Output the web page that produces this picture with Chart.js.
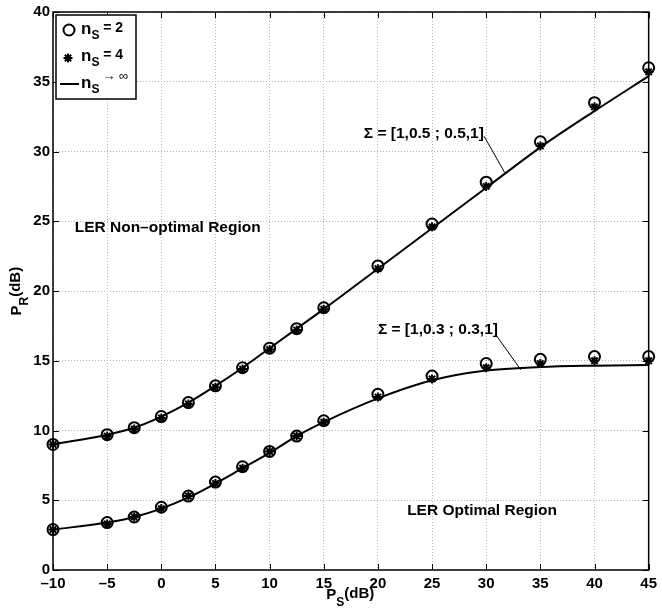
<!DOCTYPE html>
<html>
<head>
<meta charset="utf-8">
<script src="https://cdn.jsdelivr.net/npm/chart.js@4.4.1/dist/chart.umd.min.js"></script>
<style>
  html, body { margin: 0; padding: 0; background: #fff; }
  #wrap { width: 662px; height: 610px; }
</style>
</head>
<body>
<div id="wrap"><canvas id="prChart" width="662" height="610"></canvas></div>
<script>
// P_S in dB (x) and P_R in dB (y)
const psDb      = [-10, -5, -2.5, 0, 2.5, 5, 7.5, 10, 12.5, 15, 20, 25, 30, 35, 40, 45];

// Sigma = [1,0.5 ; 0.5,1]
const upperNs2  = [9.0, 9.7, 10.2, 11.0, 12.0, 13.2, 14.5, 15.9, 17.3, 18.8, 21.8, 24.8, 27.8, 30.7, 33.5, 36.0];
const upperNs4  = [9.0, 9.6, 10.1, 10.9, 11.9, 13.1, 14.4, 15.8, 17.2, 18.7, 21.6, 24.6, 27.5, 30.4, 33.2, 35.7];
const upperInf  = [9.0, 9.7, 10.2, 11.0, 12.0, 13.2, 14.5, 15.9, 17.3, 18.7, 21.6, 24.5, 27.4, 30.3, 32.9, 35.4];

// Sigma = [1,0.3 ; 0.3,1]
const lowerNs2  = [2.9, 3.4, 3.8, 4.5, 5.3, 6.3, 7.4, 8.5, 9.6, 10.7, 12.6, 13.9, 14.8, 15.1, 15.3, 15.3];
const lowerNs4  = [2.9, 3.3, 3.8, 4.4, 5.3, 6.2, 7.3, 8.5, 9.6, 10.6, 12.4, 13.7, 14.5, 14.8, 15.0, 15.0];
const lowerInf  = [2.9, 3.4, 3.8, 4.4, 5.2, 6.2, 7.3, 8.4, 9.6, 10.6, 12.3, 13.6, 14.3, 14.55, 14.65, 14.7];

const xTicks = [-10, -5, 0, 5, 10, 15, 20, 25, 30, 35, 40, 45];
const yTicks = [0, 5, 10, 15, 20, 25, 30, 35, 40];

const legendLabels = [' = 2', ' = 4', '\u2192 \u221e'];

// text labels placed in data coordinates
const notes = [
  { text: '\u03a3 = [1,0.5 ; 0.5,1]', x: 18.7, y: 30.95, from: [29.8, 31.1], to: [31.7, 28.5] },
  { text: '\u03a3 = [1,0.3 ; 0.3,1]', x: 20.0, y: 16.95, from: [30.9, 16.85], to: [33.2, 14.35] },
  { text: 'LER Non\u2013optimal Region', x: -8.0, y: 24.25 },
  { text: 'LER Optimal Region', x: 22.7, y: 3.95 }
];

const FONT = "'Liberation Sans', Arial, Helvetica, sans-serif";

function pts(xs, ys) {
  return xs.map((v, i) => ({ x: v, y: ys[i] }));
}

function lineSet(ys) {
  return {
    data: pts(psDb, ys), showLine: true, borderColor: '#000', borderWidth: 2, pointRadius: 0,
    cubicInterpolationMode: 'monotone', fill: false, clip: false, order: 3
  };
}
function markSet(ys, style, r) {
  return {
    data: pts(psDb, ys), showLine: false, pointStyle: style, pointRadius: r,
    pointBorderColor: '#000', pointBackgroundColor: 'rgba(0,0,0,0)',
    pointBorderWidth: 2, clip: false, order: style === 'circle' ? 1 : 2
  };
}

// draws "n_S" style text, returns end x
function subText(ctx, x, y, main, sub, mainSize, subSize, drop) {
  ctx.font = 'bold ' + mainSize + 'px ' + FONT;
  ctx.fillText(main, x, y);
  x += ctx.measureText(main).width;
  ctx.font = 'bold ' + subSize + 'px ' + FONT;
  ctx.fillText(sub, x, y + drop);
  return x + ctx.measureText(sub).width;
}

const overlay = {
  id: 'overlay',
  afterDraw(chart) {
    const { ctx, chartArea: a, scales: { x, y } } = chart;
    ctx.save();
    ctx.strokeStyle = '#000';
    ctx.fillStyle = '#000';

    // inward tick marks
    ctx.lineWidth = 1;
    ctx.beginPath();
    xTicks.forEach(v => {
      const px = Math.round(x.getPixelForValue(v)) + 0.5;
      ctx.moveTo(px, a.bottom); ctx.lineTo(px, a.bottom - 6);
      ctx.moveTo(px, a.top); ctx.lineTo(px, a.top + 6);
    });
    yTicks.forEach(v => {
      const py = Math.round(y.getPixelForValue(v)) + 0.5;
      ctx.moveTo(a.left, py); ctx.lineTo(a.left + 6, py);
      ctx.moveTo(a.right, py); ctx.lineTo(a.right - 6, py);
    });
    ctx.stroke();

    // axes box
    ctx.lineWidth = 1.5;
    ctx.strokeRect(a.left, a.top, a.right - a.left, a.bottom - a.top);

    // notes
    ctx.textBaseline = 'alphabetic';
    ctx.textAlign = 'left';
    notes.forEach(n => {
      ctx.font = 'bold 15.5px ' + FONT;
      ctx.fillText(n.text, x.getPixelForValue(n.x), y.getPixelForValue(n.y));
      if (n.from) {
        ctx.lineWidth = 1;
        ctx.beginPath();
        ctx.moveTo(x.getPixelForValue(n.from[0]), y.getPixelForValue(n.from[1]));
        ctx.lineTo(x.getPixelForValue(n.to[0]), y.getPixelForValue(n.to[1]));
        ctx.stroke();
      }
    });

    // legend box
    const lx = a.left + 3, ly = a.top + 3;
    ctx.fillStyle = '#fff';
    ctx.fillRect(lx, ly, 80, 84);
    ctx.lineWidth = 1.5;
    ctx.strokeRect(lx, ly, 80, 84);
    ctx.fillStyle = 'rgba(0,0,0,0)';
    ctx.lineWidth = 2;
    Chart.helpers.drawPoint(ctx, { pointStyle: 'circle', radius: 5.5, borderWidth: 2 }, lx + 13, ly + 15);
    Chart.helpers.drawPoint(ctx, { pointStyle: 'star', radius: 4.5, borderWidth: 2 }, lx + 12, ly + 43);
    ctx.fillStyle = '#000';
    ctx.lineWidth = 2;
    ctx.beginPath();
    ctx.moveTo(lx + 4, ly + 69); ctx.lineTo(lx + 23, ly + 69);
    ctx.stroke();

    let ex = subText(ctx, lx + 25, ly + 19, 'n', 'S', 17, 12, 5);
    ctx.font = 'bold 14px ' + FONT;
    ctx.fillText(legendLabels[0], ex, ly + 17);
    ex = subText(ctx, lx + 25, ly + 46, 'n', 'S', 17, 12, 5);
    ctx.font = 'bold 14px ' + FONT;
    ctx.fillText(legendLabels[1], ex, ly + 44);
    ex = subText(ctx, lx + 25, ly + 73, 'n', 'S', 17, 12, 5);
    ctx.font = '13px ' + FONT;
    ctx.fillText(legendLabels[2], ex + 3, ly + 65);

    // axis titles
    ctx.textAlign = 'left';
    ctx.font = 'bold 15px ' + FONT;
    const cx = (a.left + a.right) / 2;
    let w = ctx.measureText('P').width + ctx.measureText('(dB)').width + 9;
    ex = subText(ctx, cx - w / 2, 599, 'P', 'S', 15, 12, 7);
    ctx.font = 'bold 15px ' + FONT;
    ctx.fillText('(dB)', ex, 598);

    ctx.translate(21, (a.top + a.bottom) / 2);
    ctx.rotate(-Math.PI / 2);
    w = ctx.measureText('P').width + ctx.measureText('(dB)').width + 9;
    ex = subText(ctx, -w / 2, 0, 'P', 'R', 15, 12, 7);
    ctx.font = 'bold 15px ' + FONT;
    ctx.fillText('(dB)', ex, -1);
    ctx.restore();
  }
};

const tickFont = { family: FONT, weight: 'bold', size: 15 };
const gridOpts = { color: '#b4b4b4', lineWidth: 1, drawTicks: false };

new Chart(document.getElementById('prChart').getContext('2d'), {
  type: 'scatter',
  data: {
    datasets: [
      markSet(upperNs2, 'circle', 5.5), markSet(upperNs4, 'star', 4.5), lineSet(upperInf),
      markSet(lowerNs2, 'circle', 5.5), markSet(lowerNs4, 'star', 4.5), lineSet(lowerInf)
    ]
  },
  options: {
    responsive: false,
    devicePixelRatio: 1,
    animation: false,
    layout: { padding: { top: 11, right: 9, left: 0, bottom: 0 } },
    plugins: { legend: { display: false }, tooltip: { enabled: false } },
    scales: {
      x: {
        type: 'linear', min: -10, max: 45,
        afterBuildTicks: s => { s.ticks = xTicks.map(v => ({ value: v })); },
        afterFit: s => { s.height = 40; },
        grid: gridOpts,
        border: { display: false, dash: [1, 2] },
        ticks: {
          font: tickFont, color: '#000', padding: 5, maxRotation: 0, autoSkip: false,
          callback: v => (v < 0 ? '\u2013' + Math.abs(v) : String(v))
        }
      },
      y: {
        type: 'linear', min: 0, max: 40,
        afterBuildTicks: s => { s.ticks = yTicks.map(v => ({ value: v })); },
        afterFit: s => { s.width = 53; },
        grid: gridOpts,
        border: { display: false, dash: [1, 2] },
        ticks: { font: tickFont, color: '#000', padding: 3, autoSkip: false }
      }
    }
  },
  plugins: [overlay]
});
</script>
</body>
</html>
